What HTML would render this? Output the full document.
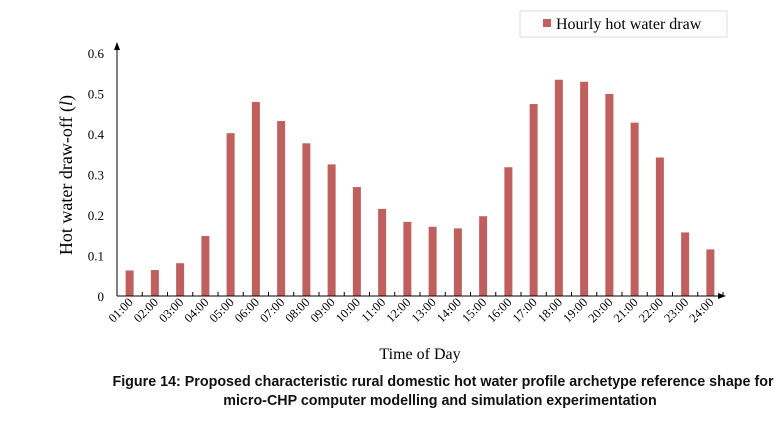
<!DOCTYPE html>
<html><head><meta charset="utf-8"><style>
body{margin:0;background:#fff;width:780px;height:422px;overflow:hidden}
svg{display:block}
.cap{font-family:"Liberation Sans",Arial,sans-serif;font-weight:bold;font-size:14.3px;fill:#111}
.ser{font-family:"Liberation Serif",serif;fill:#000}
</style></head><body>
<svg id="chart" width="780" height="422">
<g>
<rect x="520" y="11" width="207" height="26" fill="#fff" stroke="#ddd"/>
<rect x="543" y="19" width="8" height="8" fill="#c0605e"/>
<text x="556" y="29" class="ser" font-size="16">Hourly hot water draw</text>
</g>
<g id="yticks"></g><g id="bars"></g><g id="xticks"></g>
<line x1="117" y1="296" x2="117" y2="46" stroke="#000"/>
<polygon points="117,42 114,50 120,50" fill="#000"/>
<line x1="117" y1="296" x2="722" y2="296" stroke="#000"/>
<polygon points="726,296 718,293 718,299" fill="#000"/>
<text transform="translate(72,175) rotate(-90)" text-anchor="middle" class="ser" font-size="18">Hot water draw-off (<tspan font-style="italic">l</tspan>)</text>
<text x="420" y="359" text-anchor="middle" class="ser" font-size="16">Time of Day</text>
<text x="443" y="386" text-anchor="middle" class="cap">Figure 14: Proposed characteristic rural domestic hot water profile archetype reference shape for</text>
<text x="440" y="405" text-anchor="middle" class="cap">micro-CHP computer modelling and simulation experimentation</text>
</svg>
<script>
const categories=["01:00","02:00","03:00","04:00","05:00","06:00","07:00","08:00","09:00","10:00","11:00","12:00","13:00","14:00","15:00","16:00","17:00","18:00","19:00","20:00","21:00","22:00","23:00","24:00"];
const values=[0.063,0.064,0.081,0.148,0.402,0.479,0.432,0.377,0.325,0.269,0.215,0.183,0.171,0.167,0.197,0.318,0.474,0.534,0.529,0.499,0.428,0.342,0.157,0.115];
const yTicks=[0,0.1,0.2,0.3,0.4,0.5,0.6];
const yTickLabels=["0","0.1","0.2","0.3","0.4","0.5","0.6"];
const NS="http://www.w3.org/2000/svg";
const x0=117,x1=723,y0=296,yTop=53;
const band=(x1-x0)/categories.length;
const yS=v=>y0-(y0-yTop)*v/0.6;
const xS=i=>x0+band*(i+0.5);
function mk(t,a,p){const e=document.createElementNS(NS,t);for(const k in a)e.setAttribute(k,a[k]);p.appendChild(e);return e;}
const yt=document.getElementById('yticks'),bs=document.getElementById('bars'),xt=document.getElementById('xticks');
yTicks.forEach((v,i)=>{
 const t=mk('text',{x:104,y:yS(v)+5,'text-anchor':'end','class':'ser','font-size':'13'},yt);
 t.textContent=yTickLabels[i];
 
 
});
values.forEach((v,i)=>{
 const r=mk('rect',{x:xS(i)-4,y:yS(v),width:8,height:y0-yS(v),fill:'#c0605e'},bs);
 
 
});
categories.forEach((c,i)=>{
 const tx=x0+band*(i+1);
 const l=mk('line',{x1:tx,y1:296,x2:tx,y2:292,stroke:'#000'},xt);
 
 
 const cx=xS(i)+4,cy=303;
 const t=mk('text',{x:cx,y:cy,'text-anchor':'end','class':'ser','font-size':'12.5',transform:`rotate(-45 ${cx} ${cy})`},xt);
 t.textContent=c;
 
 
});
</script>
</body></html>
